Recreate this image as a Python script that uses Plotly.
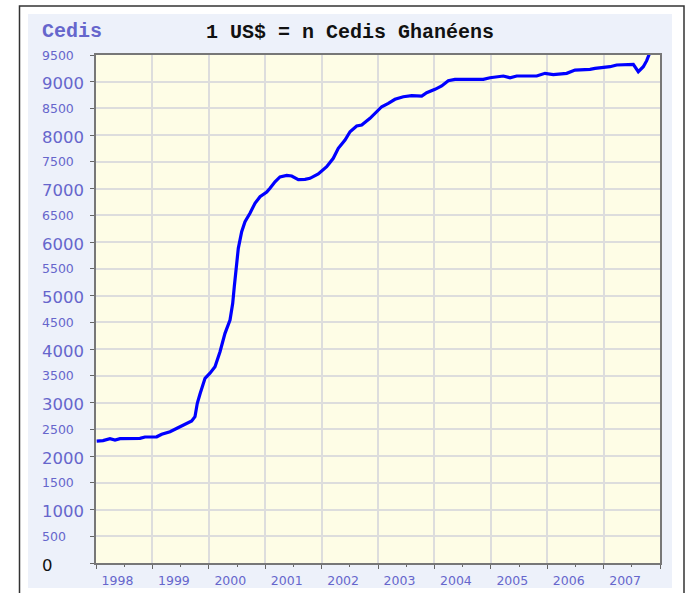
import plotly.graph_objects as go

# ---- data ----
years = [1998.012, 1998.124, 1998.248, 1998.337, 1998.426, 1998.780, 1998.869,
         1999.076, 1999.165, 1999.312, 1999.454, 1999.608, 1999.697, 1999.755,
         1999.796, 1999.844, 1999.933, 2000.021, 2000.110, 2000.199, 2000.287,
         2000.376, 2000.424, 2000.452, 2000.482, 2000.523, 2000.583, 2000.642,
         2000.730, 2000.819, 2000.908, 2001.027, 2001.085, 2001.174, 2001.262,
         2001.381, 2001.470, 2001.587, 2001.706, 2001.794, 2001.941, 2002.090,
         2002.207, 2002.296, 2002.415, 2002.504, 2002.622, 2002.711, 2002.858,
         2002.947, 2003.066, 2003.183, 2003.301, 2003.449, 2003.598, 2003.775,
         2003.863, 2004.011, 2004.129, 2004.246, 2004.365, 2004.867, 2004.986,
         2005.222, 2005.340, 2005.459, 2005.814, 2005.961, 2006.108, 2006.346,
         2006.493, 2006.759, 2006.848, 2007.113, 2007.232, 2007.527, 2007.615,
         2007.704, 2007.764, 2007.810]
cedis = [2281, 2290, 2325, 2300, 2325, 2330, 2356,
         2360, 2407, 2456, 2530, 2612, 2655, 2736,
         2986, 3160, 3454, 3550, 3671, 3951, 4295,
         4544, 4856, 5167, 5541, 5885, 6195, 6382,
         6540, 6727, 6850, 6935, 7007, 7130, 7220,
         7250, 7237, 7170, 7175, 7194, 7274, 7411,
         7568, 7755, 7910, 8066, 8172, 8191, 8316,
         8409, 8533, 8596, 8671, 8720, 8739, 8733,
         8795, 8858, 8920, 9019, 9044, 9044, 9075,
         9107, 9075, 9107, 9107, 9157, 9132, 9157,
         9219, 9232, 9250, 9281, 9313, 9325, 9188,
         9281, 9394, 9518]

year_labels = ["1998", "1999", "2000", "2001", "2002", "2003", "2004", "2005", "2006", "2007"]
year_starts = [1998, 1999, 2000, 2001, 2002, 2003, 2004, 2005, 2006, 2007, 2008]
y_ticks = list(range(0, 9501, 500))

title_text = "1 US$ = n Cedis Ghanéens"
unit_text = "Cedis"

# ---- styling ----
W, H = 690, 593
PL, PR, PT, PB = 96, 660, 55, 563   # plot box in window pixels
ML, MR, MT, MB = PL, W - PR, PT, H - PB
PW, PH = PR - PL, PB - PT
LABEL_COLOR = "#6666CC"
GRID = "#DDDDDD"


def px_x(p):
    return (p - PL) / PW


def px_y(p):
    return (PB - p) / PH


fig = go.Figure()
fig.add_trace(go.Scatter(
    x=years, y=cedis, mode="lines",
    line=dict(color="#0000FF", width=3.2),
    hoverinfo="x+y", showlegend=False,
))
# empty trace to carry the label axis
fig.add_trace(go.Scatter(x=[], y=[], xaxis="x2", showlegend=False))

label_pos = [int(l) + 0.381 for l in year_labels]
mid_years = [y + 0.5 for y in year_starts[:-1]]

# open frame (left, top, right) in paper coordinates
fx0, fx1, fy_top, fy_bot = px_x(19.5), px_x(684), px_y(6), px_y(593)
frame_path = f"M {fx0},{fy_bot} L {fx0},{fy_top} L {fx1},{fy_top} L {fx1},{fy_bot}"

fig.update_layout(
    template="none",
    width=W, height=H,
    margin=dict(l=ML, r=MR, t=MT, b=MB, pad=0, autoexpand=False),
    paper_bgcolor="white",
    plot_bgcolor="rgba(0,0,0,0)",
    showlegend=False,
    xaxis=dict(
        automargin=False,
        range=[year_starts[0], year_starts[-1]],
        tickmode="array", tickvals=year_starts, showticklabels=False,
        ticks="outside", ticklen=4, tickcolor="#666666", tickwidth=1,
        showgrid=True, gridcolor=GRID, gridwidth=1.5,
        showline=True, linecolor="#777777", linewidth=1.5, mirror=True,
        zeroline=False,
        minor=dict(tickmode="array", tickvals=mid_years,
                   ticks="outside", ticklen=2, tickcolor="#666666", showgrid=False),
    ),
    xaxis2=dict(
        automargin=False,
        overlaying="x", side="bottom", anchor="y",
        range=[year_starts[0], year_starts[-1]],
        tickmode="array", tickvals=label_pos, ticktext=year_labels,
        ticks="outside", ticklen=6, tickcolor="rgba(0,0,0,0)",
        showgrid=False, showline=False, zeroline=False,
        tickfont=dict(family="DejaVu Sans", size=12.5, color=LABEL_COLOR),
    ),
    yaxis=dict(
        automargin=False,
        range=[0, 9500],
        tickmode="array", tickvals=y_ticks, showticklabels=False,
        ticks="outside", ticklen=4, tickcolor="#666666",
        showgrid=True, gridcolor=GRID, gridwidth=1.5,
        showline=True, linecolor="#777777", linewidth=1.5, mirror=True,
        zeroline=False,
    ),
    shapes=[
        dict(type="rect", xref="paper", yref="paper",
             x0=px_x(28), x1=px_x(672), y0=px_y(588), y1=px_y(14),
             fillcolor="#EDF1FA", line=dict(width=0), layer="below"),
        dict(type="rect", xref="paper", yref="paper",
             x0=0, x1=1, y0=0, y1=1,
             fillcolor="#FEFDE6", line=dict(width=0), layer="below"),
        dict(type="path", xref="paper", yref="paper", path=frame_path,
             line=dict(color="#333333", width=1.5), layer="below"),
    ],
)

annotations = [
    dict(text=f"<b>{title_text}</b>", xref="paper", yref="paper", x=px_x(350), y=px_y(32),
         xanchor="center", yanchor="middle", showarrow=False,
         font=dict(family="Liberation Mono", size=20, color="#111111")),
    dict(text=f"<b>{unit_text}</b>", xref="paper", yref="paper", x=px_x(40), y=px_y(31),
         xanchor="left", yanchor="middle", showarrow=False,
         font=dict(family="Liberation Mono", size=20, color=LABEL_COLOR)),
]
for v in y_ticks:
    big = (v % 1000 == 0)
    annotations.append(dict(
        text=str(v), xref="paper", yref="y", x=px_x(40), y=v,
        xanchor="left", yanchor="middle", showarrow=False, yshift=-2 if big else 0,
        font=dict(family="DejaVu Sans", size=16.5 if big else 12.5,
                  color="#111111" if v == 0 else LABEL_COLOR),
    ))
fig.update_layout(annotations=annotations)

fig.write_html("out.html", config={"displayModeBar": False},
               post_script="document.body.style.margin='0px';document.body.style.overflow='hidden';")
